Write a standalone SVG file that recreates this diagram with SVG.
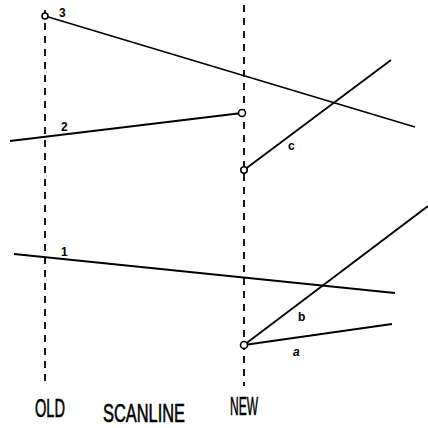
<svg xmlns="http://www.w3.org/2000/svg" width="428" height="428" viewBox="0 0 428 428">
<style>
.scan{stroke:#000;stroke-width:1.8;stroke-dasharray:7 6;fill:none}
.edge{stroke:#000;stroke-width:1.8;fill:none}
.pt{stroke:#000;stroke-width:1.6;fill:#fff}
.lbl{font-family:"Liberation Sans",Arial,sans-serif;font-size:12px;font-weight:bold;fill:#000}
.cap{font-family:"Liberation Sans",Arial,sans-serif;font-size:25px;fill:#000;stroke:#000;stroke-width:0.6}
</style>
<rect width="428" height="428" fill="#fff"/>
<g id="scanlines">
<line class="scan" x1="45" y1="10" x2="45" y2="386"/>
<line class="scan" x1="244" y1="5" x2="244" y2="386"/>
</g>
<g id="connectors">
<line id="e3" class="edge" x1="45" y1="16" x2="415" y2="127"/>
<line id="e2" class="edge" x1="10" y1="141" x2="242" y2="113"/>
<line id="ec" class="edge" x1="244" y1="170" x2="391" y2="60"/>
<line id="e1" class="edge" x1="14" y1="254" x2="395" y2="293"/>
<line id="eb" class="edge" x1="244" y1="345" x2="428" y2="206"/>
<line id="ea" class="edge" x1="244" y1="345" x2="392" y2="324"/>
</g>
<g id="node3"><circle class="pt" cx="45" cy="16" r="3"/><text class="lbl" x="59" y="17">3</text></g>
<g id="node2"><circle class="pt" cx="242" cy="113" r="3.5"/><text class="lbl" x="61" y="131">2</text></g>
<g id="nodec"><circle class="pt" cx="244" cy="170" r="3.2"/><text class="lbl" x="288" y="150">c</text></g>
<g id="node1"><text class="lbl" x="61" y="256">1</text></g>
<g id="nodeab"><circle class="pt" cx="244" cy="345" r="3.5"/><text class="lbl" x="298" y="321">b</text><text class="lbl" x="293" y="356" font-style="italic">a</text></g>
<g id="captions">
<text class="cap" x="35" y="417" textLength="30" lengthAdjust="spacingAndGlyphs">OLD</text>
<text class="cap" x="103" y="422" textLength="82" lengthAdjust="spacingAndGlyphs">SCANLINE</text>
<text class="cap" x="230" y="415" textLength="28" lengthAdjust="spacingAndGlyphs">NEW</text>
</g>
</svg>
